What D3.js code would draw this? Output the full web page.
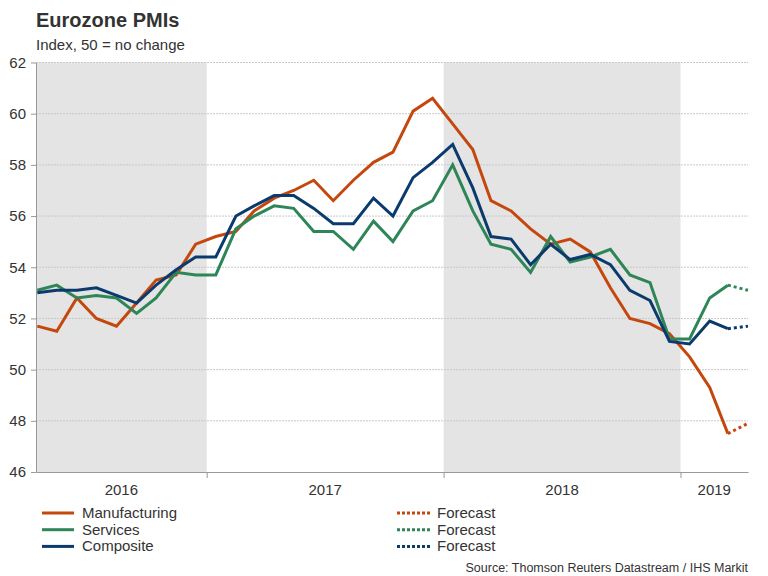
<!DOCTYPE html>
<html>
<head>
<meta charset="utf-8">
<script src="https://cdn.jsdelivr.net/npm/d3@7"></script>
<style>
  body { margin: 0; background: #fff; }
  svg { font-family: Arial, "Liberation Sans", sans-serif; }
</style>
</head>
<body>
<div id="chart"></div>
<script>
// monthly, Apr 2016 .. Mar 2019, then one forecast point (Apr 2019)
const months = d3.range(36).map(i => new Date(2016, 3 + i, 15));

const manufacturing = [51.7, 51.5, 52.8, 52.0, 51.7, 52.6, 53.5, 53.7, 54.9,
  55.2, 55.4, 56.2, 56.7, 57.0, 57.4, 56.6, 57.4, 58.1, 58.5, 60.1, 60.6,
  59.6, 58.6, 56.6, 56.2, 55.5, 54.9, 55.1, 54.6, 53.2, 52.0, 51.8, 51.4,
  50.5, 49.3, 47.5];
const services = [53.1, 53.3, 52.8, 52.9, 52.8, 52.2, 52.8, 53.8, 53.7,
  53.7, 55.5, 56.0, 56.4, 56.3, 55.4, 55.4, 54.7, 55.8, 55.0, 56.2, 56.6,
  58.0, 56.2, 54.9, 54.7, 53.8, 55.2, 54.2, 54.4, 54.7, 53.7, 53.4, 51.2,
  51.2, 52.8, 53.3];
const composite = [53.0, 53.1, 53.1, 53.2, 52.9, 52.6, 53.3, 53.9, 54.4,
  54.4, 56.0, 56.4, 56.8, 56.8, 56.3, 55.7, 55.7, 56.7, 56.0, 57.5, 58.1,
  58.8, 57.1, 55.2, 55.1, 54.1, 54.9, 54.3, 54.5, 54.1, 53.1, 52.7, 51.1,
  51.0, 51.9, 51.6];
// forecast for Apr 2019
const forecast = { manufacturing: 47.9, services: 53.1, composite: 51.7 };

const yTicks = [46, 48, 50, 52, 54, 56, 58, 60, 62];
const years = [2016, 2017, 2018, 2019];
const shadedYears = [2016, 2018];

const colors = {
  manufacturing: '#c4480d',
  services: '#2e8557',
  composite: '#0b3a6c',
};

const size = { width: 768, height: 576 };
const plot = { left: 36, right: 748, top: 62.5, bottom: 472 };

const svg = d3.select('#chart').append('svg')
  .attr('width', size.width)
  .attr('height', size.height);

const x = d3.scaleTime()
  .domain([new Date(2016, 3, 13), new Date(2019, 3, 15)])
  .range([plot.left, plot.right]);

const y = d3.scaleLinear()
  .domain([46, 62])
  .range([plot.bottom, plot.top]);

// shaded years
shadedYears.forEach(yr => {
  const x0 = Math.max(plot.left, x(new Date(yr, 0, 1)));
  const x1 = Math.min(plot.right, x(new Date(yr + 1, 0, 1)));
  svg.append('rect')
    .attr('x', x0).attr('y', plot.top)
    .attr('width', x1 - x0).attr('height', plot.bottom - plot.top)
    .attr('fill', '#e4e4e4');
});

// gridlines
svg.append('g')
  .selectAll('line')
  .data(yTicks.filter(t => t !== 46))
  .enter()
  .append('line')
  .attr('x1', plot.left).attr('x2', plot.right)
  .attr('y1', d => y(d)).attr('y2', d => y(d))
  .attr('stroke', '#c8c8c8')
  .attr('stroke-width', 1)
  .attr('stroke-dasharray', '2,1');

// y axis
const yAxis = svg.append('g')
  .attr('transform', `translate(${plot.left},0)`)
  .call(d3.axisLeft(y).tickValues(yTicks).tickSize(5).tickPadding(5).tickSizeOuter(0));
yAxis.select('.domain').attr('stroke', '#999');
yAxis.selectAll('.tick line').attr('stroke', '#999');
yAxis.selectAll('text')
  .attr('font-size', 15)
  .attr('fill', '#333')
  .attr('font-family', 'Arial, "Liberation Sans", sans-serif');

// x axis
const yearBounds = [new Date(2017, 0, 1), new Date(2018, 0, 1), new Date(2019, 0, 1)];
const xAxis = svg.append('g')
  .attr('transform', `translate(0,${plot.bottom})`)
  .call(d3.axisBottom(x).tickValues(yearBounds).tickSize(6).tickFormat('').tickSizeOuter(0));
xAxis.select('.domain').attr('stroke', '#999');
xAxis.selectAll('.tick line').attr('stroke', '#999');

svg.append('g')
  .selectAll('text')
  .data(years)
  .enter()
  .append('text')
  .attr('x', d => {
    const a = Math.max(plot.left, x(new Date(d, 0, 1)));
    const b = Math.min(plot.right, x(new Date(d + 1, 0, 1)));
    return (a + b) / 2;
  })
  .attr('y', 495)
  .attr('text-anchor', 'middle')
  .attr('font-size', 15)
  .attr('fill', '#333')
  .text(d => d);

// lines
const line = d3.line()
  .x(d => x(d.date))
  .y(d => y(d.value));

const seriesData = { manufacturing, services, composite };
const forecastDate = new Date(2019, 3, 15);
const drawOrder = ['manufacturing', 'services', 'composite'];

drawOrder.forEach(key => {
  const vals = seriesData[key];
  svg.append('path')
    .datum([{ date: months[vals.length - 1], value: vals[vals.length - 1] },
            { date: forecastDate, value: forecast[key] }])
    .attr('d', line)
    .attr('fill', 'none')
    .attr('stroke', colors[key])
    .attr('stroke-width', 3)
    .attr('stroke-dasharray', '3,3');
});

drawOrder.forEach(key => {
  const vals = seriesData[key];
  svg.append('path')
    .datum(vals.map((v, i) => ({ date: months[i], value: v })))
    .attr('d', line)
    .attr('fill', 'none')
    .attr('stroke', colors[key])
    .attr('stroke-width', 3);
});

// titles
svg.append('text')
  .attr('x', 36).attr('y', 27)
  .attr('font-size', 20)
  .attr('font-weight', 'bold')
  .attr('fill', '#333')
  .text('Eurozone PMIs');

svg.append('text')
  .attr('x', 36).attr('y', 50)
  .attr('font-size', 15)
  .attr('fill', '#333')
  .text('Index, 50 = no change');

// legend
const legendNames = ['Manufacturing', 'Services', 'Composite'];
const legend = svg.append('g');
drawOrder.forEach((key, i) => {
  const ly = 513 + i * 16.7;
  legend.append('line')
    .attr('x1', 42).attr('x2', 74)
    .attr('y1', ly).attr('y2', ly)
    .attr('stroke', colors[key]).attr('stroke-width', 3);
  legend.append('text')
    .attr('x', 82).attr('y', ly + 5)
    .attr('font-size', 15).attr('fill', '#333')
    .text(legendNames[i]);
  legend.append('line')
    .attr('x1', 397).attr('x2', 432)
    .attr('y1', ly).attr('y2', ly)
    .attr('stroke', colors[key]).attr('stroke-width', 3)
    .attr('stroke-dasharray', '3,2');
  legend.append('text')
    .attr('x', 437).attr('y', ly + 5)
    .attr('font-size', 15).attr('fill', '#333')
    .text('Forecast');
});

svg.append('text')
  .attr('x', 748).attr('y', 572)
  .attr('text-anchor', 'end')
  .attr('font-size', 12.5)
  .attr('fill', '#333')
  .text('Source: Thomson Reuters Datastream / IHS Markit');
</script>
</body>
</html>
